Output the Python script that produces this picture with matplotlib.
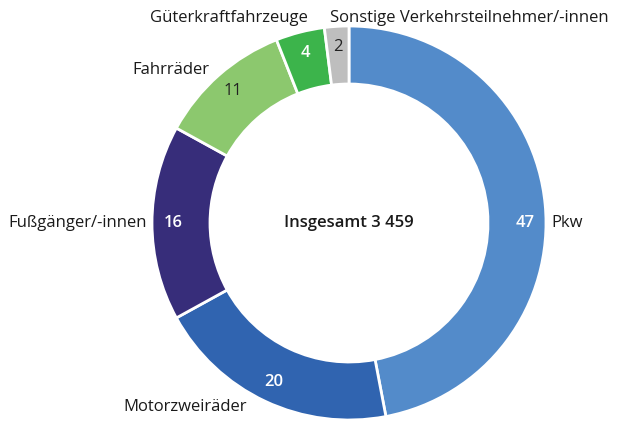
import matplotlib
matplotlib.use("Agg")
import matplotlib.pyplot as plt
import numpy as np

plt.rcParams['font.family'] = ['Open Sans', 'DejaVu Sans']

# Verunglückte nach Art der Verkehrsbeteiligung, Anteil in %
categories = ["Pkw", "Motorzweiräder", "Fußgänger/-innen", "Fahrräder",
              "Güterkraftfahrzeuge", "Sonstige Verkehrsteilnehmer/-innen"]
shares = [47, 20, 16, 11, 4, 2]
colors = ["#538bca", "#3064b0", "#372d7a", "#8cc86e", "#3cb44b", "#bebebe"]
value_colors = ["white", "white", "white", "#222222", "white", "#222222"]
total_label = "Insgesamt 3 459"

# outer label placement (pixels from top left) and alignment
label_pos = [(551, 223, "left"), (185, 407, "center"), (147, 223, "right"),
             (209, 70, "right"), (229, 18, "center"), (330, 18, "left")]

W, H = 617, 421
cx, cy = 349, H - 223
R, ring = 197, 58

fig = plt.figure(figsize=(W / 100, H / 100), dpi=100)
ax = fig.add_axes([0, 0, 1, 1])

wedges, _ = ax.pie(shares, radius=R, center=(cx, cy), startangle=90,
                   counterclock=False, colors=colors,
                   wedgeprops=dict(width=ring, edgecolor="white", linewidth=2))
ax.set_xlim(0, W)
ax.set_ylim(0, H)
ax.set_aspect("equal")
ax.axis("off")

# values inside the ring
r_txt = 176
cum = np.cumsum([0] + shares[:-1])
for i, v in enumerate(shares):
    if i == 0:
        ang = 0.0
    else:
        ang = np.deg2rad(90 - (cum[i] + v / 2) / sum(shares) * 360)
    x = cx + r_txt * np.cos(ang)
    y = cy + r_txt * np.sin(ang)
    ax.text(x, y, str(v), ha="center", va="center", fontsize=12,
            color=value_colors[i],
            fontweight="semibold" if value_colors[i] == "white" else "normal")

for name, (x, y, ha) in zip(categories, label_pos):
    ax.text(x, H - y, name, ha=ha, va="center", fontsize=12, color="#1a1a1a")

ax.text(cx, cy, total_label, ha="center", va="center", fontsize=12,
        fontweight="semibold", color="#1a1a1a")

fig.savefig("out.png", dpi=100)
